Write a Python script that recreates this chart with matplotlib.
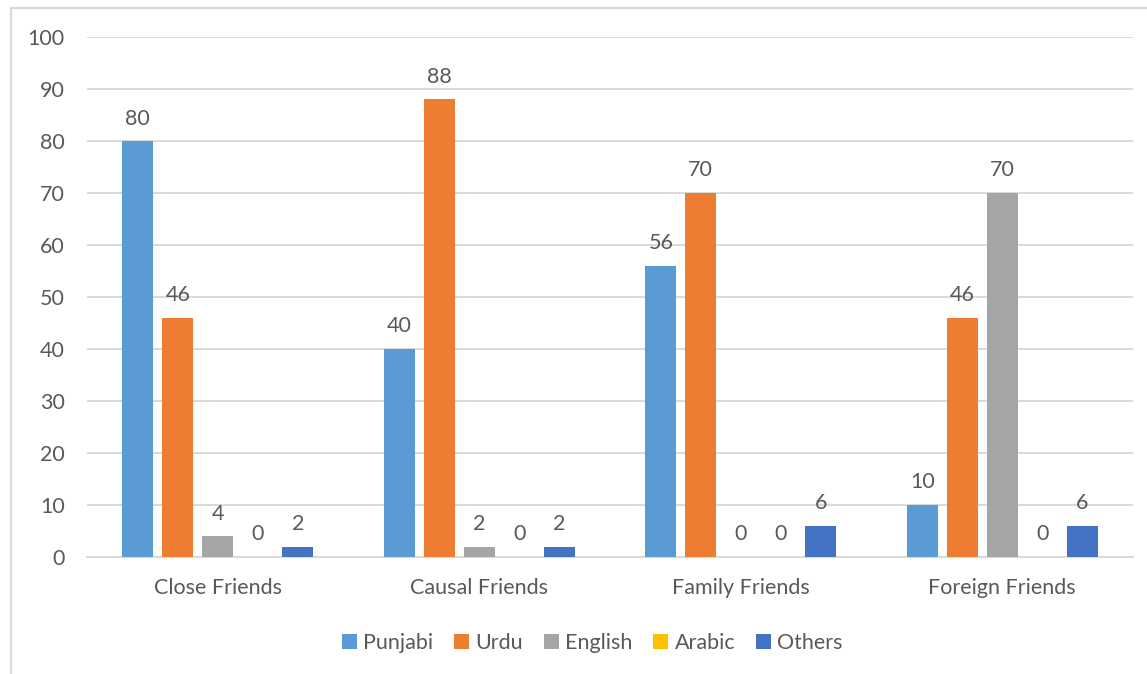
import matplotlib.pyplot as plt
import numpy as np
from matplotlib.lines import Line2D

categories = ["Close Friends", "Causal Friends", "Family Friends", "Foreign Friends"]
languages = ["Punjabi", "Urdu", "English", "Arabic", "Others"]
punjabi = [80, 40, 56, 10]
urdu = [46, 88, 70, 46]
english = [4, 2, 0, 70]
arabic = [0, 0, 0, 0]
others = [2, 2, 6, 6]
colors = ["#5B9BD5", "#ED7D31", "#A5A5A5", "#FFC000", "#4472C4"]

plt.rcParams["font.family"] = ["Lato", "DejaVu Sans"]
text_color = "#595959"
fs = 15.5

fig = plt.figure(figsize=(11.47, 6.74), dpi=100)
ax = fig.add_axes([0.0759, 0.1736, 0.9119, 0.7715])

x = np.arange(len(categories))
step = 0.153
width = 0.1186
series = [punjabi, urdu, english, arabic, others]
for i, (name, vals, c) in enumerate(zip(languages, series, colors)):
    pos = x + (i - 2) * step
    bars = ax.bar(pos, vals, width, color=c, label=name, zorder=3)
    for b, v in zip(bars, vals):
        ax.annotate(str(v), (b.get_x() + b.get_width() / 2, v),
                    xytext=(0, 9), textcoords="offset points",
                    ha="center", va="bottom", fontsize=fs, color=text_color)

ax.set_xlim(-0.5, 3.5)
ax.set_ylim(0, 100)
ax.set_yticks(range(0, 101, 10))
ax.set_xticks(x)
ax.set_xticklabels(categories)
ax.grid(axis="y", color="#D9D9D9", linewidth=1.4, zorder=0)
for s in ["top", "right", "left"]:
    ax.spines[s].set_visible(False)
ax.spines["bottom"].set_color("#D9D9D9")
ax.spines["bottom"].set_linewidth(1.4)
ax.tick_params(axis="both", length=0, labelsize=fs, colors=text_color)
ax.tick_params(axis="y", pad=16)
ax.tick_params(axis="x", pad=15)

ax.legend(loc="center", bbox_to_anchor=(0.483, -0.165), ncol=5, frameon=False,
          fontsize=fs, labelcolor=text_color, handlelength=0.7, handleheight=0.7,
          handletextpad=0.3, columnspacing=0.95)

# outer chart frame
fx = 11 / 1147
fy = 1 - 8 / 674
fig.add_artist(Line2D([fx, fx], [0, fy], color="#D9D9D9", linewidth=1.5, transform=fig.transFigure))
fig.add_artist(Line2D([fx, 1], [fy, fy], color="#D9D9D9", linewidth=1.5, transform=fig.transFigure))

fig.savefig("out.png", dpi=100)
